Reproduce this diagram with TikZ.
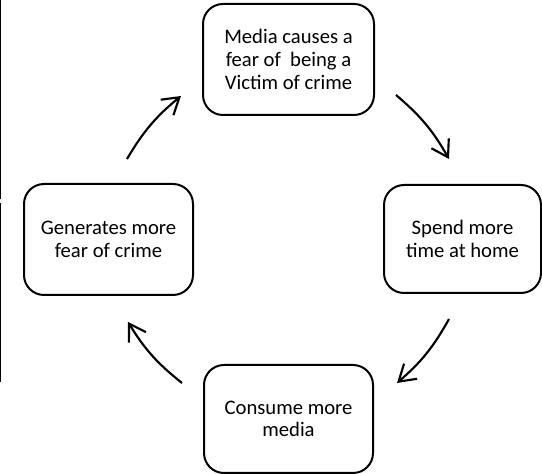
\documentclass[tikz,border=0pt]{standalone}
\usepackage{fontspec}
\setmainfont{Carlito}
\usetikzlibrary{arrows.meta}

\begin{document}
\begin{tikzpicture}[
    x=0.75pt,
    y=0.75pt,
    >={Straight Barb[length=12pt,width=15pt]},
    cyclebox/.style={
        draw=black,
        line width=1.5pt,
        rounded corners=15pt,
        align=center,
        inner sep=0pt,
        font=\fontsize{15.5}{17}\selectfont
    },
    cyclearrow/.style={->,line width=1.6pt,bend left=10}
]

\useasboundingbox (0,0) rectangle (542,474);

% ---------------------------------------------------------
% Left margin rule
% ---------------------------------------------------------

\draw[line width=0.75pt]
    (0.5,474) -- (0.5,275);
\draw[line width=0.75pt]
    (0.5,271) -- (0.5,92);

% ---------------------------------------------------------
% The four stages of the cycle
% ---------------------------------------------------------

\node[cyclebox,minimum width=128.25pt,minimum height=83.25pt]
    (media) at (288.5,414.5)
{Media causes a\\fear of~ being a\\Victim of crime};

\node[cyclebox,minimum width=117.75pt,minimum height=81pt]
    (spend) at (462.5,235)
{Spend more\\time at home};

\node[cyclebox,minimum width=126.75pt,minimum height=81pt]
    (consume) at (288.5,55)
{Consume more\\media};

\node[cyclebox,minimum width=126.75pt,minimum height=83.25pt]
    (generate) at (108.5,234.5)
{Generates more\\fear of crime};

% ---------------------------------------------------------
% Arrow ends between the stages
% ---------------------------------------------------------

\coordinate (tlstart) at (127,315);
\coordinate (tlend)   at (181,378);
\coordinate (trstart) at (396,379);
\coordinate (trend)   at (449,315);
\coordinate (brstart) at (449,155);
\coordinate (brend)   at (397,91);
\coordinate (blstart) at (182,91);
\coordinate (blend)   at (128,152);

% Clockwise arrows
\draw[cyclearrow] (tlstart) to (tlend);
\draw[cyclearrow] (trstart) to (trend);
\draw[cyclearrow] (brstart) to (brend);
\draw[cyclearrow] (blstart) to (blend);

\end{tikzpicture}
\end{document}
